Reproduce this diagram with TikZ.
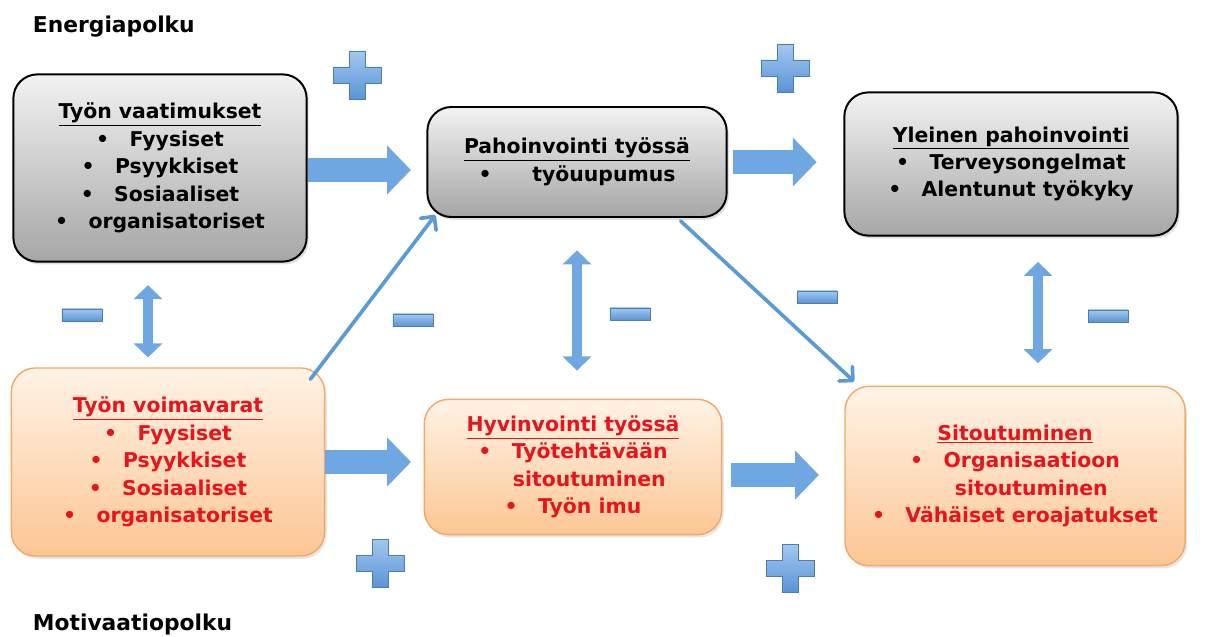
\documentclass[tikz,border=0pt]{standalone}
\usepackage{fontspec}
\setmainfont{DejaVu Sans}
\usetikzlibrary{calc,shadows,arrows.meta}
\definecolor{blueA}{HTML}{A3C8EF}
\definecolor{blueB}{HTML}{5A94D6}
\definecolor{blueC}{HTML}{5B9BD5}
\definecolor{blueD}{HTML}{6FA7E3}
\definecolor{grayA}{HTML}{F2F2F2}
\definecolor{grayB}{HTML}{A6A6A6}
\definecolor{peachA}{HTML}{FFF3E6}
\definecolor{peachB}{HTML}{FCC694}
\definecolor{peachC}{HTML}{F2A968}
\definecolor{redtext}{HTML}{E8141B}

\begin{document}
\begin{tikzpicture}[
  x=0.025cm, y=-0.025cm,
  every node/.style={font=\bfseries\fontsize{14.5}{19.5}\selectfont},
  graybox/.style={rectangle,draw=black,line width=1.4pt,rounded corners=0.6cm,top color=grayA,bottom color=grayB,align=center,
    drop shadow={opacity=0.25,shadow xshift=1.5pt,shadow yshift=-2pt}},
  orangebox/.style={rectangle,draw=peachC,line width=1pt,rounded corners=0.6cm,top color=peachA,bottom color=peachB,align=center,text=redtext,
    drop shadow={opacity=0.2,shadow xshift=1.5pt,shadow yshift=-2pt}},
  pathlabel/.style={anchor=west,font=\bfseries\fontsize{15.5}{19}\selectfont},
  fatarrow/.style={line width=17.5pt,blueD,-{Triangle[length=17pt,width=34pt]}},
  twoway/.style={line width=7pt,blueD,{Triangle[length=10pt,width=20pt]}-{Triangle[length=10pt,width=20pt]}},
  thinarrow/.style={line width=2.6pt,blueC,line cap=round,-{Straight Barb[length=7pt,width=14pt,round]}},
  minussign/.style={rectangle,minimum width=1cm,minimum height=0.3cm,inner sep=0pt,top color=blueA,bottom color=blueB,draw=blueB!85!black,line width=0.3pt},
  plussign/.pic={\shade[top color=blueA,bottom color=blueB,draw=blueB!85!black,line width=0.3pt]
    (-8,-24) -- (8,-24) -- (8,-8) -- (24,-8) -- (24,8) -- (8,8) -- (8,24) -- (-8,24) -- (-8,8) -- (-24,8) -- (-24,-8) -- (-8,-8) -- cycle;}
]
\useasboundingbox (0,0) rectangle (1206,637);

\node[pathlabel] (energy) at (28,27) {Energiapolku};
\node[pathlabel] (motiv) at (28,624) {Motivaatiopolku};

\node[graybox,minimum width=7.33cm,minimum height=4.68cm] (dem) at (160,168) {\underline{Työn vaatimukset}\\
  \textbullet\quad Fyysiset\\ \textbullet\quad Psyykkiset\\ \textbullet\quad Sosiaaliset\\ \textbullet\quad organisatoriset};
\node[graybox,minimum width=7.48cm,minimum height=2.75cm] (bad) at (577,162) {\underline{Pahoinvointi työssä}\\
  \textbullet\qquad työuupumus};
\node[graybox,minimum width=8.33cm,minimum height=3.58cm] (gen) at (1011,164) {\underline{Yleinen pahoinvointi}\\
  \textbullet\quad Terveysongelmat\\ \textbullet\quad Alentunut työkyky};
\node[orangebox,minimum width=7.83cm,minimum height=4.7cm] (res) at (168,462) {\underline{Työn voimavarat}\\
  \textbullet\quad Fyysiset\\ \textbullet\quad Psyykkiset\\ \textbullet\quad Sosiaaliset\\ \textbullet\quad organisatoriset};
\node[orangebox,minimum width=7.43cm,minimum height=3.38cm] (well) at (573,467) {\underline{Hyvinvointi työssä}\\
  \textbullet\quad Työtehtävään\\ \hspace{1.6em}sitoutuminen\\ \textbullet\quad Työn imu};
\node[orangebox,minimum width=8.5cm,minimum height=4.48cm] (com) at (1015,476) {\underline{Sitoutuminen}\\
  \textbullet\quad Organisaatioon\\ \hspace{1.6em}sitoutuminen\\ \textbullet\quad Vähäiset eroajatukset};

\draw[fatarrow,shorten >=11pt] ($(dem.east)+(0,2)$) -- ($(dem.east -| bad.west)+(0,2)$);
\draw[fatarrow,shorten <=4pt,shorten >=19pt] (bad.east) -- (bad.east -| gen.west);
\draw[fatarrow,shorten >=9pt] (res.east) -- (res.east -| well.west);
\draw[fatarrow,shorten <=6pt,shorten >=18pt] ($(well.east)+(0,8)$) -- ($(well.east -| com.west)+(0,8)$);

\draw[twoway,shorten <=16pt,shorten >=7pt] ($(dem.south)+(-12,0)$) -- ($(res.north)+(-20,0)$);
\draw[twoway,shorten <=23pt,shorten >=20pt] (bad.south) -- (bad.south |- well.north);
\draw[twoway,shorten <=18pt,shorten >=16pt] ($(gen.south)+(27,0)$) -- ($(com.north)+(23,0)$);

\draw[thinarrow] ($(res.north east)+(-15,12)$) -- ($(bad.south west)+(9,-3)$);
\draw[thinarrow] ($(bad.south east)+(-47,3)$) -- ($(com.north west)+(10,-4)$);

\pic (plus1) at (357,75) {plussign};
\pic (plus2) at (785,68) {plussign};
\pic (plus3) at (380,563) {plussign};
\pic (plus4) at (790,568) {plussign};

\node[minussign] (minus1) at (82,315) {};
\node[minussign] (minus2) at (413,320) {};
\node[minussign] (minus3) at (630,314) {};
\node[minussign] (minus4) at (817,297) {};
\node[minussign] (minus5) at (1108,316) {};
\end{tikzpicture}
\end{document}
